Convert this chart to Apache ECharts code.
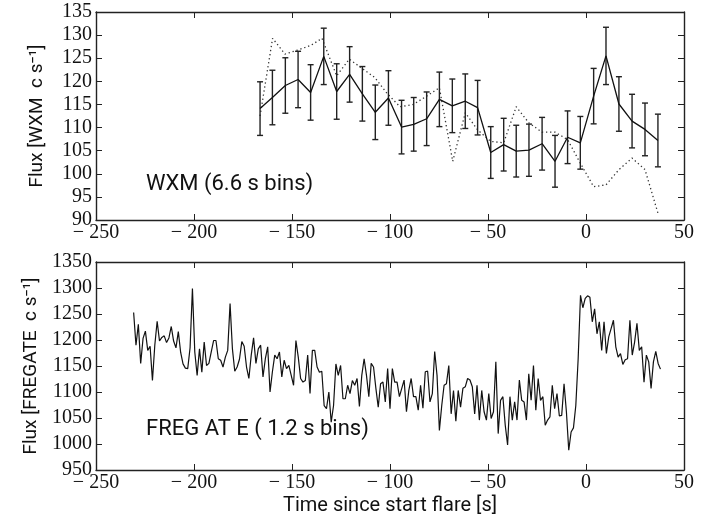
<!DOCTYPE html>
<html>
<head>
<meta charset="utf-8">
<script src="https://cdn.jsdelivr.net/npm/echarts@6/dist/echarts.min.js"></script>
<style>html,body{margin:0;padding:0;background:#fff}#c{width:714px;height:524px}</style>
</head>
<body>
<div id="c"></div>
<script>
// WXM (6.6 s bins)
const wxmTime = [-166.3, -160.0, -153.4, -146.9, -140.5, -133.8, -127.2, -120.6, -114.1, -107.5, -100.8, -94.1, -87.9, -81.3, -74.8, -68.2, -61.6, -55.3, -48.6, -42.0, -35.6, -29.1, -22.4, -15.8, -9.4, -2.9, 3.9, 10.2, 16.8, 23.5, 30.1, 36.7];
const wxmFlux = [114.1, 116.5, 119.1, 120.4, 117.6, 125.4, 117.8, 121.5, 117.3, 113.3, 116.4, 110.1, 110.7, 111.9, 116.1, 114.7, 115.7, 114.3, 104.6, 106.3, 104.9, 105.1, 106.5, 102.7, 107.9, 106.7, 116.8, 125.5, 115.1, 111.4, 109.6, 107.2];
const wxmErr = [5.8, 5.9, 6.0, 6.1, 6.0, 6.1, 6.0, 6.0, 5.9, 5.9, 5.9, 5.8, 5.8, 5.8, 5.9, 5.8, 5.9, 5.9, 5.6, 5.7, 5.6, 5.65, 5.7, 5.6, 5.7, 5.7, 6.0, 6.2, 5.9, 5.8, 5.7, 5.7];
// dotted curve in WXM panel
const dotTime = [-166.3, -159.9, -153.6, -146.8, -140.3, -134.7, -127.2, -120.8, -113.6, -107.7, -101.7, -94.9, -88.1, -81.3, -74.8, -68.0, -61.6, -55.3, -48.6, -42.0, -35.6, -29.1, -22.4, -15.8, -9.4, -2.9, 3.9, 10.2, 16.8, 23.5, 30.1, 36.7];
const dotFlux = [112.5, 129.3, 125.9, 126.8, 127.8, 129.3, 121.2, 124.8, 122.6, 120.8, 117.5, 114.5, 115.0, 116.8, 118.6, 102.7, 113.2, 109.5, 107.0, 106.7, 114.5, 111.0, 109.0, 109.0, 107.4, 102.3, 97.2, 97.6, 100.9, 103.4, 100.9, 91.5];
// FREGATE (1.2 s bins)
const fregStart = -230.8;
const fregBin = 1.2;
const fregFlux = [
1253,1190,1230,1155,1203,1217,1180,1188,1122,1190,1236,1198,1205,1208,1195,1204,1226,1198,1185,1216,1176,1154,1146,1145,1185,1299,1177,1132,1183,1138,1196,1151,1155,1177,1199,1199,1164,1161,1148,1167,1180,1270,1183,1140,1148,1163,1197,1188,1148,1126,1171,1204,
1155,1183,1190,1129,1164,1187,1100,1139,1171,1164,1177,1129,1161,1145,1151,1132,1113,1199,1167,1126,1119,1122,1171,1097,1180,1180,1148,1138,1140,1074,1068,1100,1042,1074,1154,1132,1151,1087,1087,1113,1097,1122,1113,1126,1072,
1132,1164,1132,1091,1155,1148,1107,1071,1116,1119,1081,1145,1068,1145,1119,1119,1091,1107,1123,1062,1103,1126,1091,1091,1065,1113,1069,1139,1140,1081,1097,1178,1132,1026,1074,1113,1116,1151,1058,1103,1044,1103,1071,1107,
1110,1126,1123,1110,1058,1113,1046,1103,1062,1046,1097,1049,1062,1158,1020,1084,1091,1036,998,1091,1046,1081,1046,1123,1084,1081,1046,1135,1084,1151,1065,1126,1084,1091,1036,1046,1052,1113,1068,1097,1054,1055,1116,
1062,988,1023,1031,1074,1164,1286,1262,1280,1285,1282,1235,1260,1212,1235,1180,1235,1174,1206,1222,1238,1187,1167,1174,1153,1162,1164,1238,1171,1196,1232,1180,1187,1119,1171,1158,1107,1158,1178,1155,1144];
// axes
const xMin = -250, xMax = 50, xStep = 50;
const wxmYMin = 90, wxmYMax = 135, wxmYStep = 5;
const fregYMin = 950, fregYMax = 1350, fregYStep = 50;

const INK = '#111';
const SERIF = '"Liberation Serif", "Times New Roman", serif';
const SANS = 'Roboto, "Open Sans", sans-serif';

function xFmt(v){ return v < 0 ? '\u2212 ' + Math.abs(v) : String(v); }
function yFmt(v){ return String(v); }

function xAx(grid, pos, labels, extra){
  return Object.assign({
    gridIndex: grid, type: 'value', position: pos, min: xMin, max: xMax, interval: xStep,
    axisLine: {show: true, onZero: false, lineStyle: {color: '#222', width: 1.4}},
    axisTick: {show: true, inside: true, length: 6, lineStyle: {color: '#222', width: 1}},
    axisLabel: {show: labels, formatter: xFmt, color: INK, fontFamily: SERIF, fontSize: 20, margin: 3},
    splitLine: {show: false}
  }, extra || {});
}
function yAx(grid, pos, labels, mn, mx, st, extra){
  return Object.assign({
    gridIndex: grid, type: 'value', position: pos, min: mn, max: mx, interval: st,
    axisLine: {show: true, onZero: false, lineStyle: {color: '#222', width: 1.4}},
    axisTick: {show: true, inside: true, length: 6, lineStyle: {color: '#222', width: 1}},
    axisLabel: {show: labels, formatter: yFmt, color: INK, fontFamily: SERIF, fontSize: 20, margin: 4},
    splitLine: {show: false}
  }, extra || {});
}

const chart = echarts.init(document.getElementById('c'), null, {renderer: 'canvas'});
chart.setOption({
  animation: false,
  backgroundColor: '#fff',
  grid: [
    {left: 96, right: 30, top: 12, height: 208},
    {left: 96, right: 30, top: 262, height: 208}
  ],
  xAxis: [
    xAx(0, 'bottom', true),
    xAx(0, 'top', false),
    xAx(1, 'bottom', true, {name: 'Time since start flare [s]', nameLocation: 'middle', nameGap: 26,
      nameTextStyle: {color: INK, fontFamily: SANS, fontSize: 20}}),
    xAx(1, 'top', false)
  ],
  yAxis: [
    yAx(0, 'left', true, wxmYMin, wxmYMax, wxmYStep, {name: 'Flux [WXM  c s\u207B\u00B9]', nameLocation: 'middle', nameGap: 49,
      nameTextStyle: {color: INK, fontFamily: SANS, fontSize: 19}}),
    yAx(0, 'right', false, wxmYMin, wxmYMax, wxmYStep),
    yAx(1, 'left', true, fregYMin, fregYMax, fregYStep, {name: 'Flux [FREGATE  c s\u207B\u00B9]', nameLocation: 'middle', nameGap: 49,
      nameTextStyle: {color: INK, fontFamily: SANS, fontSize: 19}}),
    yAx(1, 'right', false, fregYMin, fregYMax, fregYStep)
  ],
  series: [
    {
      type: 'line', xAxisIndex: 0, yAxisIndex: 0, symbol: 'none',
      data: dotTime.map((t, i) => [t, dotFlux[i]]),
      lineStyle: {color: '#333', width: 1.3, type: [1.3, 2.8]}, z: 2
    },
    {
      type: 'custom', xAxisIndex: 0, yAxisIndex: 0,
      data: wxmTime.map((t, i) => [t, wxmFlux[i] - wxmErr[i], wxmFlux[i] + wxmErr[i]]),
      encode: {x: 0, y: [1, 2]},
      renderItem: function(params, api){
        const x = api.value(0);
        const lo = api.coord([x, api.value(1)]);
        const hi = api.coord([x, api.value(2)]);
        const hw = 3;
        const st = {stroke: '#222', lineWidth: 1.4};
        return {type: 'group', children: [
          {type: 'line', shape: {x1: lo[0], y1: lo[1], x2: hi[0], y2: hi[1]}, style: st},
          {type: 'line', shape: {x1: lo[0]-hw, y1: lo[1], x2: lo[0]+hw, y2: lo[1]}, style: st},
          {type: 'line', shape: {x1: hi[0]-hw, y1: hi[1], x2: hi[0]+hw, y2: hi[1]}, style: st}
        ]};
      }, z: 3
    },
    {
      type: 'line', xAxisIndex: 0, yAxisIndex: 0, symbol: 'none',
      data: wxmTime.map((t, i) => [t, wxmFlux[i]]),
      lineStyle: {color: INK, width: 1.3}, z: 4
    },
    {
      type: 'line', xAxisIndex: 2, yAxisIndex: 2, symbol: 'none',
      data: fregFlux.map((v, i) => [fregStart + i * fregBin, v]),
      lineStyle: {color: INK, width: 1.2}, z: 4
    }
  ],
  graphic: [
    {type: 'text', left: 146, top: 173, style: {text: 'WXM (6.6 s bins)', fill: INK, font: '22px Roboto, "Open Sans", sans-serif'}},
    {type: 'text', left: 146, top: 418, style: {text: 'FREG AT E ( 1.2 s bins)', fill: INK, font: '22px Roboto, "Open Sans", sans-serif'}}
  ]
});
</script>
</body>
</html>
